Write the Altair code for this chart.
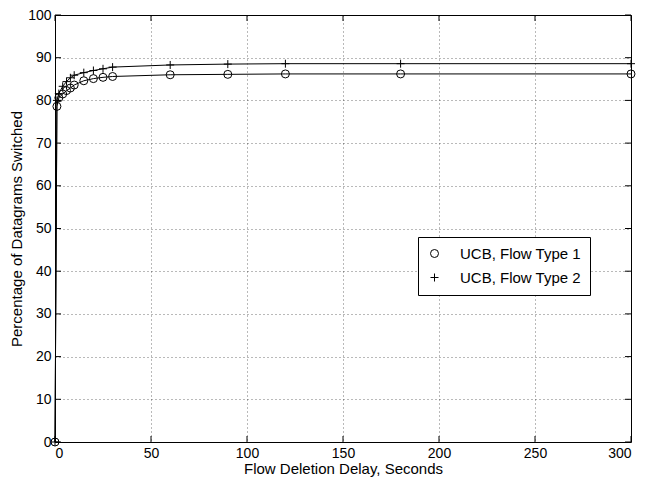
import altair as alt
import pandas as pd

# Flow deletion delay (seconds)
delay = [0, 1, 2, 4, 6, 8, 10, 15, 20, 25, 30, 60, 90, 120, 180, 300]
# Percentage of datagrams switched
type1 = [0, 78.6, 80.6, 81.5, 82.3, 82.9, 83.6, 84.6, 85.1, 85.4, 85.6, 86.0, 86.1, 86.2, 86.2, 86.2]
type2 = [0, 80.0, 81.6, 83.3, 84.4, 85.3, 85.9, 86.5, 87.0, 87.4, 87.8, 88.3, 88.5, 88.6, 88.6, 88.6]
series_names = ["UCB, Flow Type 1", "UCB, Flow Type 2"]

x_ticks = [0, 50, 100, 150, 200, 250, 300]
y_ticks = [0, 10, 20, 30, 40, 50, 60, 70, 80, 90, 100]

W, H = 576, 427
FONT = "Liberation Sans"

rows = []
for name, vals in zip(series_names, [type1, type2]):
    for d, v in zip(delay, vals):
        rows.append({"delay": d, "pct": v, "series": name})
df = pd.DataFrame(rows)

xs = alt.Scale(domain=[0, 300], nice=False)
ys = alt.Scale(domain=[0, 100], nice=False)

x_axis = alt.Axis(values=x_ticks, title="Flow Deletion Delay, Seconds", grid=True,
                  ticks=False, domain=False, labelPadding=4, titlePadding=1, format="d")
y_axis = alt.Axis(values=y_ticks, title="Percentage of Datagrams Switched", grid=True,
                  ticks=False, domain=False, labelPadding=4, titlePadding=3, format="d")

base = alt.Chart(df)

lines = base.mark_line(color="black", strokeWidth=1).encode(
    x=alt.X("delay:Q", scale=xs, axis=x_axis),
    y=alt.Y("pct:Q", scale=ys, axis=y_axis),
    detail="series:N",
)

points = base.mark_point(filled=False, stroke="black", strokeWidth=1, size=64, opacity=1).encode(
    x=alt.X("delay:Q", scale=xs),
    y=alt.Y("pct:Q", scale=ys),
    shape=alt.Shape("series:N",
                    scale=alt.Scale(domain=series_names, range=["circle", "M-1,0L1,0M0,-1L0,1"]),
                    legend=alt.Legend(title=None, orient="none", legendX=363, legendY=222,
                                      labelFontSize=15, labelFont=FONT, labelColor="black",
                                      labelOffset=18, padding=9, rowPadding=8,
                                      strokeColor="black", fillColor="white",
                                      symbolStrokeColor="black", symbolFillColor="transparent",
                                      symbolStrokeWidth=1, symbolSize=64)),
)

xt = pd.DataFrame({"v": x_ticks})
yt = pd.DataFrame({"v": y_ticks})
TL = 6
tick_bottom = alt.Chart(xt).mark_rule(color="black").encode(
    x=alt.X("v:Q", scale=xs), y=alt.value(H), y2=alt.value(H - TL))
tick_top = alt.Chart(xt).mark_rule(color="black").encode(
    x=alt.X("v:Q", scale=xs), y=alt.value(0), y2=alt.value(TL))
tick_left = alt.Chart(yt).mark_rule(color="black").encode(
    y=alt.Y("v:Q", scale=ys), x=alt.value(0), x2=alt.value(TL))
tick_right = alt.Chart(yt).mark_rule(color="black").encode(
    y=alt.Y("v:Q", scale=ys), x=alt.value(W), x2=alt.value(W - TL))

chart = alt.layer(lines, tick_bottom, tick_top, tick_left, tick_right, points).properties(
    width=W, height=H,
    autosize=alt.AutoSizeParams(type="none"),
    padding={"left": 47, "top": 7, "right": 8, "bottom": 38},
    background="white",
).configure_view(
    stroke="black", strokeWidth=1
).configure_axis(
    gridColor="black", gridDash=[1, 3], gridOpacity=0.55, gridWidth=1,
    labelFont=FONT, labelFontSize=14, labelColor="black",
    titleFont=FONT, titleFontSize=15, titleColor="black", titleFontWeight="normal",
)

chart.save("out.html", embed_options={"renderer": "svg", "actions": False})
